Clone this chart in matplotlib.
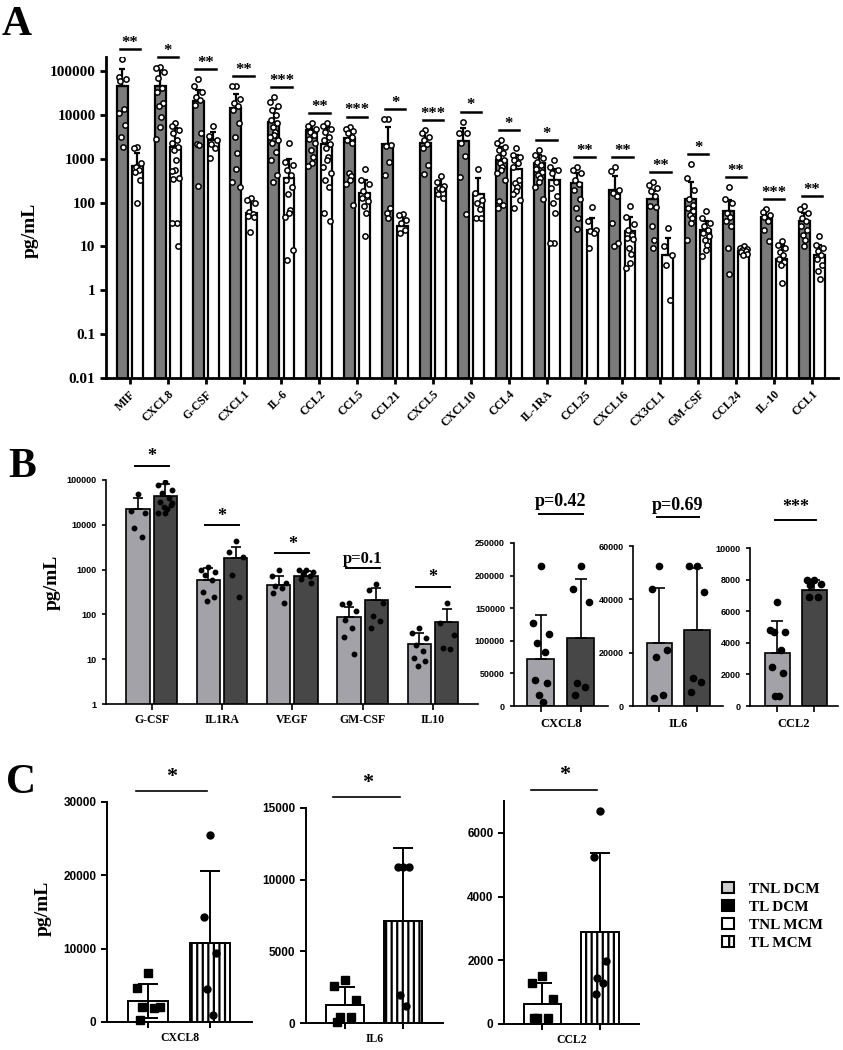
import matplotlib
matplotlib.use('Agg')
import matplotlib.pyplot as plt
import matplotlib.transforms as mtransforms
import numpy as np
from matplotlib.patches import Patch

SERIF = ['Liberation Serif', 'DejaVu Serif']
NARROW = ['Liberation Sans Narrow', 'Liberation Sans', 'DejaVu Sans']
plt.rcParams['font.family'] = SERIF
plt.rcParams['font.weight'] = 'bold'
plt.rcParams['hatch.linewidth'] = 1.6

# ---------------- Panel A data ----------------
a_cats = ['MIF', 'CXCL8', 'G-CSF', 'CXCL1', 'IL-6', 'CCL2', 'CCL5', 'CCL21', 'CXCL5', 'CXCL10',
          'CCL4', 'IL-1RA', 'CCL25', 'CXCL16', 'CX3CL1', 'GM-CSF', 'CCL24', 'IL-10', 'CCL1']
a_grey_mean = [46000, 46000, 21000, 14500, 7000, 4500, 3000, 2200, 2300, 2500,
               950, 790, 285, 195, 120, 120, 66, 46, 38]
a_grey_sd = [64000, 74000, 17000, 15500, 7000, 1500, 2000, 3200, 1800, 2600,
             950, 410, 185, 205, 60, 180, 49, 24, 20]
a_white_mean = [700, 1900, 2700, 59, 360, 2200, 170, 30, 215, 160,
                580, 330, 24, 22, 6.5, 24, 7.7, 5.2, 6.5]
a_white_sd = [650, 3100, 1300, 56, 640, 3200, 160, 23, 175, 200,
              620, 270, 21, 26, 9.5, 14, 2.3, 5.8, 4.5]
a_grey_pts = [
    [190000, 72000, 65000, 60000, 14000, 11000, 5900, 3200, 1900],
    [125000, 117000, 95000, 70000, 41000, 33000, 19000, 16000, 9000, 5300, 2800],
    [65000, 46000, 34000, 26000, 22000, 17000, 3800, 2200, 2100, 240],
    [46000, 45000, 22600, 18400, 16000, 13000, 6400, 3200, 1350, 600, 300, 230],
    [26000, 20000, 16000, 13000, 10000, 7700, 6500, 5400, 4100, 3500, 3200, 2700, 2300, 1450, 930, 430, 300],
    [6400, 5600, 4900, 4100, 3500, 2900, 2300, 1600, 1100, 800, 700],
    [5400, 4900, 4400, 3800, 3200, 2700, 2300, 470, 400, 330, 260, 90],
    [8000, 7900, 2100, 2000, 860, 430, 74, 58, 45],
    [4500, 3900, 3200, 2700, 2200, 1750, 720, 450],
    [7000, 3900, 3800, 2300, 1150, 380, 54],
    [2700, 2300, 1900, 1600, 1350, 1100, 930, 790, 660, 550, 470, 330, 110, 90, 75],
    [1600, 1200, 1050, 860, 720, 600, 500, 430, 360, 300, 230, 120],
    [640, 550, 470, 330, 270, 190, 120, 75, 45, 25],
    [640, 530, 195, 170, 140, 35, 12, 10],
    [290, 250, 215, 180, 140, 83, 80, 30, 14, 9],
    [750, 370, 190, 120, 90, 75, 63, 53, 45, 35, 14],
    [230, 120, 100, 58, 48, 38, 29, 9.3, 2.3],
    [70, 60, 53, 46, 38, 24, 13],
    [83, 70, 58, 45, 38, 30, 24, 18.6, 14, 10],
]
a_white_pts = [
    [1900, 1800, 800, 660, 550, 500, 330, 97],
    [6500, 5500, 4500, 3900, 2700, 2300, 1900, 1600, 930, 550, 540, 370, 340, 35, 34, 10],
    [5600, 3300, 2700, 2200, 1750, 1050],
    [130, 115, 100, 60, 55, 50, 48, 21],
    [2300, 860, 720, 550, 430, 330, 230, 160, 68, 58, 48, 8.3, 5],
    [6400, 5600, 4900, 4100, 3200, 2700, 2200, 1750, 1100, 930, 660, 470, 330, 230, 58, 38],
    [600, 330, 260, 180, 150, 130, 110, 83, 58, 17],
    [54, 53, 40, 34, 24, 20],
    [400, 300, 240, 215, 200, 160, 130],
    [580, 170, 115, 100, 70, 45, 45],
    [1750, 1200, 1100, 930, 790, 660, 330, 280, 230, 180, 160, 115, 75],
    [930, 660, 550, 470, 300, 215, 140, 100, 58, 12, 12],
    [80, 38, 24, 22, 20, 9],
    [83, 48, 32, 24, 18.6, 16, 14.5, 9.3, 6.6, 4.2, 3.2],
    [27, 10, 6.5, 3.8, 0.6],
    [63, 45, 34, 29, 24, 20, 17, 14, 11, 8.3, 6],
    [10, 9.3, 8.8, 8.2, 7.7, 7.3, 6.9, 6.5],
    [13, 11, 9.3, 7.4, 6.3, 5.2, 4.4, 3.7, 1.45],
    [17, 11, 9.3, 7.8, 6.5, 5.2, 3.7, 2.7, 1.8],
]
a_sig = ['**', '*', '**', '**', '***', '**', '***', '*', '***', '*',
         '*', '*', '**', '**', '**', '*', '**', '***', '**']
a_yticks = [0.01, 0.1, 1, 10, 100, 1000, 10000, 100000]
a_yticklabels = ['0.01', '0.1', '1', '10', '100', '1000', '10000', '100000']

# ---------------- Panel B data ----------------
b_cats = ['G-CSF', 'IL1RA', 'VEGF', 'GM-CSF', 'IL10']
b_light_mean = [22000, 590, 450, 86, 22]
b_light_sd = [17000, 470, 270, 64, 17]
b_dark_mean = [45000, 1800, 730, 205, 69]
b_dark_sd = [35000, 1400, 210, 175, 63]
b_light_pts = [
    [48000, 20000, 18600, 8300, 5400],
    [1120, 1000, 900, 760, 590, 320, 250, 200],
    [1000, 730, 500, 440, 380, 300, 180],
    [180, 175, 120, 75, 51, 31, 13],
    [49, 38, 29, 21, 15.5, 10.5, 9, 7],
]
b_dark_pts = [
    [91000, 77000, 60000, 50000, 40000, 33000, 28000, 25400, 22000, 18000, 18000, 30000],
    [4300, 2500, 1900, 760, 240],
    [1000, 970, 900, 800, 730, 620, 500],
    [480, 350, 180, 94, 72, 51],
    [180, 63, 35, 17.5, 17],
]
b_sig = ['*', '*', '*', 'p=0.1', '*']
b_yticks = [1, 10, 100, 1000, 10000, 100000]
b_yticklabels = ['1', '10', '100', '1000', '10000', '100000']

b2_cats = ['CXCL8', 'IL6', 'CCL2']
b2_light_mean = [72000, 23500, 3340]
b2_light_sd = [68000, 20900, 2070]
b2_dark_mean = [104500, 28500, 7360]
b2_dark_sd = [90500, 23100, 590]
b2_light_pts = [
    [215000, 127000, 110000, 96000, 83000, 40000, 35000, 17000, 6000],
    [52600, 43800, 21000, 18300, 4100, 2900],
    [6610, 4820, 4710, 4710, 3550, 2490, 2110, 650, 650],
]
b2_dark_pts = [
    [215000, 179000, 160000, 35000, 29000, 17000],
    [52600, 52600, 42900, 10400, 9100, 5100],
    [7950, 7950, 7740, 7670, 6930, 6890],
]
b2_sig = ['p=0.42', 'p=0.69', '***']
b2_ymax = [250000, 60000, 10000]
b2_ystep = [50000, 20000, 2000]

# ---------------- Panel C data ----------------
c_cats = ['CXCL8', 'IL6', 'CCL2']
c_tnl_mean = [2840, 1270, 626]
c_tnl_sd_lo = [2260, 0, 0]
c_tnl_sd = [2340, 1220, 674]
c_tl_mean = [10830, 7090, 2900]
c_tl_sd = [9740, 5140, 2470]
c_tnl_pts = [
    [6700, 4700, 2000, 2000, 1900, 300],
    [3000, 2600, 1600, 400, 400, 50],
    [1510, 1300, 780, 200, 200, 200],
]
c_tl_pts = [
    [25480, 14340, 9380, 4510, 910],
    [10850, 10850, 10850, 1970, 1200],
    [6700, 5250, 1980, 1430, 1300, 940],
]
c_sig = ['*', '*', '*']
c_ymax = [30000, 15000, 7000]
c_ystep = [10000, 5000, 2000]

legend_labels = ['TNL DCM', 'TL DCM', 'TNL MCM', 'TL MCM']

GREY_A = '#7b7b7b'
LIGHT_B = '#a2a2a8'
DARK_B = '#474747'

W, H = 843, 1050
fig = plt.figure(figsize=(W / 100, H / 100), dpi=100)


def rect(x0, y0, x1, y1):
    """pixel box (top-left origin) -> figure fraction"""
    return [x0 / W, 1 - y1 / H, (x1 - x0) / W, (y1 - y0) / H]


def jitter(n, spread):
    pattern = [0, -1, 1, -0.5, 0.5, -0.75, 0.75, -0.25, 0.25]
    return np.array([pattern[i % len(pattern)] for i in range(n)]) * spread


def style_axes(ax, lw):
    ax.spines['top'].set_visible(False)
    ax.spines['right'].set_visible(False)
    ax.spines['left'].set_linewidth(lw)
    ax.spines['bottom'].set_linewidth(lw)
    ax.tick_params(direction='out', width=lw, length=4)
    ax.minorticks_off()


# ================= Panel A =================
axA = fig.add_axes(rect(106, 57, 838, 378))
axA.set_yscale('log')
x = np.arange(len(a_cats))
w, off = 0.29, 0.2
axA.bar(x - off, a_grey_mean, w, bottom=1e-3, color=GREY_A, edgecolor='black', linewidth=1.6, zorder=2)
axA.bar(x + off, a_white_mean, w, bottom=1e-3, color='white', edgecolor='black', linewidth=1.6, zorder=2)
axA.errorbar(x - off, a_grey_mean, yerr=[np.zeros(len(x)), a_grey_sd], fmt='none',
             ecolor='black', elinewidth=1.6, capsize=2.5, capthick=1.6, zorder=3)
axA.errorbar(x + off, a_white_mean, yerr=[np.zeros(len(x)), a_white_sd], fmt='none',
             ecolor='black', elinewidth=1.6, capsize=2.5, capthick=1.6, zorder=3)
for i in range(len(a_cats)):
    for xc, pts in ((x[i] - off, a_grey_pts[i]), (x[i] + off, a_white_pts[i])):
        axA.plot(xc + jitter(len(pts), 0.1), pts, 'o', ms=3.8, mfc='white', mec='black',
                 mew=1.1, zorder=4)
    top = max(max(a_grey_pts[i]), max(a_white_pts[i]), a_grey_mean[i] + a_grey_sd[i])
    h = top * 1.7
    axA.plot([x[i] - 0.27, x[i] + 0.27], [h, h], color='black', lw=1.8, clip_on=False)
    axA.text(x[i], h * 1.12, a_sig[i], ha='center', va='baseline', fontsize=12, weight='bold')
axA.set_xlim(-0.63, 18.69)
axA.set_ylim(0.01, 2.1e5)
axA.set_yticks(a_yticks)
axA.set_yticklabels(a_yticklabels, fontsize=11, weight='bold')
axA.set_xticks(x)
axA.set_xticklabels(a_cats, rotation=45, ha='right', rotation_mode='anchor', fontsize=8.5, weight='bold')
style_axes(axA, 2)
axA.minorticks_off()

# ================= Panel B (log) =================
axB = fig.add_axes(rect(106, 480, 478, 704))
axB.set_yscale('log')
xb = np.arange(len(b_cats))
wb, ob = 0.33, 0.195
axB.bar(xb - ob, b_light_mean, wb, bottom=1e-3, color=LIGHT_B, edgecolor='black', linewidth=1.2, zorder=2)
axB.bar(xb + ob, b_dark_mean, wb, bottom=1e-3, color=DARK_B, edgecolor='black', linewidth=1.2, zorder=2)
axB.errorbar(xb - ob, b_light_mean, yerr=[np.zeros(len(xb)), b_light_sd], fmt='none',
             ecolor='black', elinewidth=1.2, capsize=3.5, capthick=1.2, zorder=3)
axB.errorbar(xb + ob, b_dark_mean, yerr=[np.zeros(len(xb)), b_dark_sd], fmt='none',
             ecolor='black', elinewidth=1.2, capsize=3.5, capthick=1.2, zorder=3)
for i in range(len(b_cats)):
    for xc, pts in ((xb[i] - ob, b_light_pts[i]), (xb[i] + ob, b_dark_pts[i])):
        axB.plot(xc + jitter(len(pts), 0.1), pts, 'o', ms=3.2, color='black', zorder=4)
    top = max(max(b_light_pts[i]), max(b_dark_pts[i]), b_dark_mean[i] + b_dark_sd[i])
    h = top * 2.3
    axB.plot([xb[i] - 0.24, xb[i] + 0.24], [h, h], color='black', lw=1.4, clip_on=False)
    fs = 13 if b_sig[i] == '*' else 12
    axB.text(xb[i], h * 1.25, b_sig[i], ha='center', va='baseline', fontsize=fs, weight='bold')
axB.set_xlim(-0.65, 4.64)
axB.set_ylim(1, 1e5)
axB.set_yticks(b_yticks)
axB.set_yticklabels(b_yticklabels, fontsize=6.5, weight='bold', family=NARROW)
axB.set_xticks(xb)
axB.set_xticklabels(b_cats, fontsize=8.5, weight='bold')
style_axes(axB, 1.2)
axB.tick_params(axis='y', length=3)
axB.minorticks_off()

# ================= Panel B (linear, three small) =================
b2_boxes = [(514, 543, 608, 706), (633, 546, 723, 706), (750, 548, 838, 706)]
b2_xlims = [(-0.67, 1.68), (-0.70, 1.70), (-0.74, 1.65)]
for i in range(3):
    ax = fig.add_axes(rect(*b2_boxes[i]))
    wbar = 0.68
    ax.bar([0], [b2_light_mean[i]], wbar, color=LIGHT_B, edgecolor='black', linewidth=1.2, zorder=2)
    ax.bar([1], [b2_dark_mean[i]], wbar, color=DARK_B, edgecolor='black', linewidth=1.2, zorder=2)
    ax.errorbar([0, 1], [b2_light_mean[i], b2_dark_mean[i]],
                yerr=[[0, 0], [b2_light_sd[i], b2_dark_sd[i]]], fmt='none',
                ecolor='black', elinewidth=1.2, capsize=4.5, capthick=1.2, zorder=3)
    for xc, pts in ((0, b2_light_pts[i]), (1, b2_dark_pts[i])):
        ax.plot(xc + jitter(len(pts), 0.2), pts, 'o', ms=4.5, color='black', zorder=4, clip_on=False)
    ax.set_xlim(*b2_xlims[i])
    ax.set_ylim(0, b2_ymax[i])
    ax.set_yticks(np.arange(0, b2_ymax[i] + 1, b2_ystep[i]))
    ax.set_yticklabels([str(int(v)) for v in np.arange(0, b2_ymax[i] + 1, b2_ystep[i])],
                       fontsize=6.5, weight='bold', family=NARROW)
    ax.set_xticks([0, 1])
    ax.set_xticklabels(['', ''])
    ax.set_xlabel(b2_cats[i], fontsize=9, weight='bold', labelpad=1)
    style_axes(ax, 1.2)
    ax.tick_params(axis='y', length=3)
    tr = mtransforms.blended_transform_factory(ax.transData, ax.transAxes)
    ax.plot([-0.05, 1.05], [1.18, 1.18], color='black', lw=1.4, transform=tr, clip_on=False)
    ax.text(0.5, 1.2, b2_sig[i], ha='center', va='bottom', fontsize=13, weight='bold',
            transform=tr)

# ================= Panel C =================
c_boxes = [(107, 802, 252, 1022), (306, 808, 443, 1023), (504, 801, 639, 1024)]
for i in range(3):
    ax = fig.add_axes(rect(*c_boxes[i]))
    wbar = 0.65
    ax.bar([0], [c_tnl_mean[i]], wbar, color='white', edgecolor='black', linewidth=1.4, zorder=2)
    ax.bar([1], [c_tl_mean[i]], wbar, color='white', edgecolor='black', linewidth=1.4,
           hatch='|||', zorder=2)
    ax.errorbar([0], [c_tnl_mean[i]], yerr=[[c_tnl_sd_lo[i]], [c_tnl_sd[i]]], fmt='none',
                ecolor='black', elinewidth=1.4, capsize=7, capthick=1.4, zorder=3)
    ax.errorbar([1], [c_tl_mean[i]], yerr=[[0], [c_tl_sd[i]]], fmt='none',
                ecolor='black', elinewidth=1.4, capsize=7, capthick=1.4, zorder=3)
    ax.plot(0 + jitter(len(c_tnl_pts[i]), 0.19), c_tnl_pts[i], 's', ms=5.5, color='black',
            zorder=4, clip_on=False)
    ax.plot(1 + jitter(len(c_tl_pts[i]), 0.1), c_tl_pts[i], 'o', ms=5, color='black',
            zorder=4, clip_on=False)
    ax.set_xlim(-0.67, 1.68)
    ax.set_ylim(0, c_ymax[i])
    ticks = np.arange(0, c_ymax[i] + 1, c_ystep[i])
    ax.set_yticks(ticks)
    ax.set_yticklabels([str(int(v)) for v in ticks], fontsize=8.5, weight='bold', family=NARROW)
    ax.set_xticks([0, 1])
    ax.set_xticklabels(['', ''])
    ax.set_xlabel(c_cats[i], fontsize=8.5, weight='bold', labelpad=0)
    style_axes(ax, 1.4)
    ax.tick_params(length=4)
    tr = mtransforms.blended_transform_factory(ax.transData, ax.transAxes)
    ax.plot([-0.2, 0.95], [1.05, 1.05], color='black', lw=1.2, transform=tr, clip_on=False)
    ax.text(0.38, 1.07, c_sig[i], ha='center', va='bottom', fontsize=16, weight='bold',
            transform=tr)

handles = [Patch(facecolor='#cdcdcd', edgecolor='black', linewidth=1.5),
           Patch(facecolor='black', edgecolor='black', linewidth=1.5),
           Patch(facecolor='white', edgecolor='black', linewidth=1.5),
           Patch(facecolor='white', edgecolor='black', linewidth=1.5, hatch='||')]
fig.legend(handles, legend_labels, loc='upper left', bbox_to_anchor=(708 / W, 1 - 868 / H),
           frameon=False, handlelength=0.8, handleheight=0.8,
           handletextpad=1.0, labelspacing=0.25, prop={'family': SERIF, 'weight': 'bold', 'size': 11})

# y labels and panel letters
for xp, yp in ((30, 230), (52, 582), (43, 908)):
    fig.text(xp / W, 1 - yp / H, 'pg/mL', rotation=90, ha='center', va='center',
             fontsize=14, weight='bold')
for letter, xp, yp in (('A', 2, 6), ('B', 8, 448), ('C', 6, 764)):
    fig.text(xp / W, 1 - yp / H, letter, ha='left', va='top', fontsize=30, weight='bold')

fig.savefig('out.png', dpi=100)
